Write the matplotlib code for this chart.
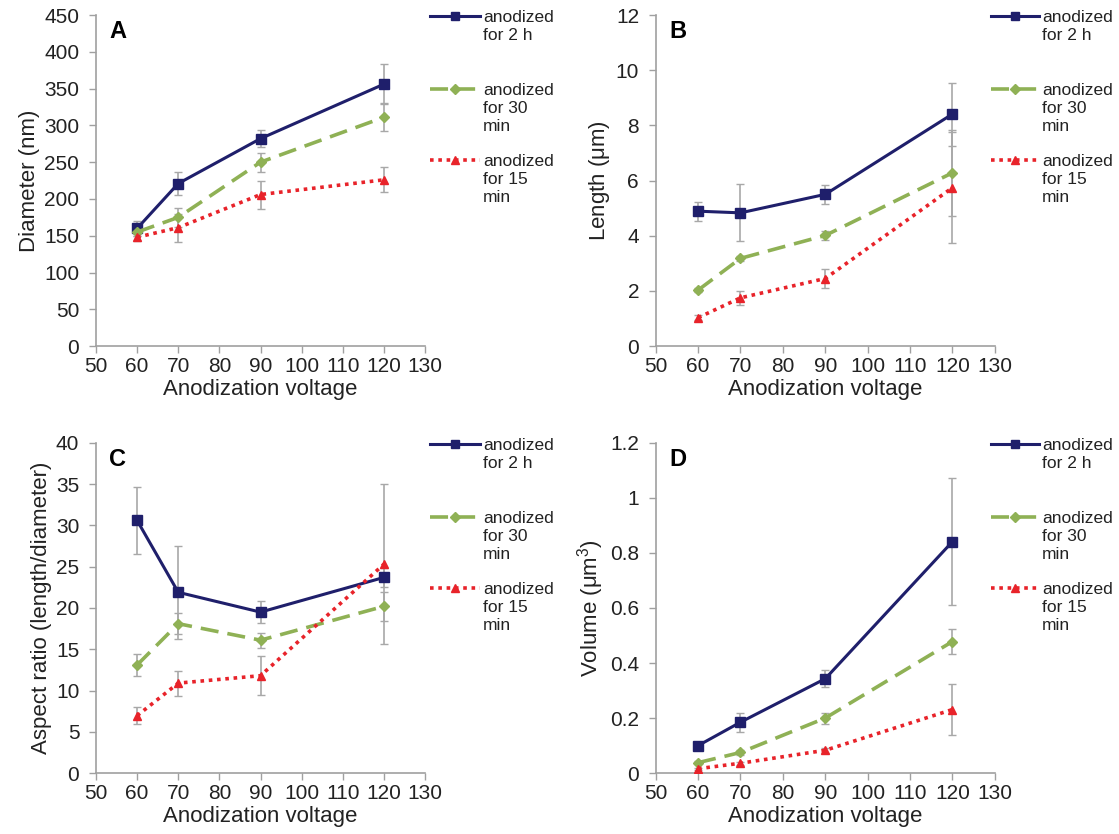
import numpy as np
import matplotlib
matplotlib.use('Agg')
from matplotlib import pyplot as plt
from matplotlib.transforms import blended_transform_factory

plt.rcParams['font.family'] = ['Liberation Sans', 'DejaVu Sans']

voltage = [60, 70, 90, 120]

# Diameter (nm)
dia_2h = [160, 221, 282, 356]
dia_2h_err = [10, 15, 12, 27]
dia_30 = [155, 175, 250, 311]
dia_30_err = [5, 13, 13, 19]
dia_15 = [148, 161, 206, 226]
dia_15_err = [5, 19, 19, 17]

# Length (um)
len_2h = [4.89, 4.83, 5.5, 8.41]
len_2h_err = [0.35, 1.03, 0.35, 1.14]
len_30 = [2.03, 3.18, 4.01, 6.28]
len_30_err = [0.08, 0.1, 0.15, 1.55]
len_15 = [1.03, 1.75, 2.45, 5.74]
len_15_err = [0.08, 0.25, 0.33, 2.02]

# Aspect ratio
ar_2h = [30.6, 21.9, 19.5, 23.7]
ar_2h_err = [4.1, 5.6, 1.35, 1.2]
ar_30 = [13.1, 18.1, 16.1, 20.2]
ar_30_err = [1.35, 1.3, 0.9, 1.75]
ar_15 = [6.96, 10.9, 11.8, 25.3]
ar_15_err = [1.0, 1.5, 2.35, 9.7]

# Volume (um^3)
vol_2h = [0.10, 0.185, 0.343, 0.841]
vol_2h_err = [0.008, 0.035, 0.03, 0.23]
vol_30 = [0.038, 0.075, 0.20, 0.478]
vol_30_err = [0.005, 0.008, 0.02, 0.046]
vol_15 = [0.016, 0.036, 0.083, 0.231]
vol_15_err = [0.004, 0.006, 0.01, 0.092]

labels = ['anodized\nfor 2 h', 'anodized\nfor 30\nmin', 'anodized\nfor 15\nmin']
navy = '#1f1f6b'
green = '#8fb155'
red = '#e8232a'
errc = '#a8a8a8'
spinec = '#a0a0a0'
textc = '#222222'

panels = [
    ('A', 'Diameter (nm)', (dia_2h, dia_2h_err), (dia_30, dia_30_err), (dia_15, dia_15_err), 450, 50),
    ('B', 'Length ($\\mathregular{\\mu}$m)', (len_2h, len_2h_err), (len_30, len_30_err), (len_15, len_15_err), 12, 2),
    ('C', 'Aspect ratio (length/diameter)', (ar_2h, ar_2h_err), (ar_30, ar_30_err), (ar_15, ar_15_err), 40, 5),
    ('D', 'Volume ($\\mathregular{\\mu m^3}$)', (vol_2h, vol_2h_err), (vol_30, vol_30_err), (vol_15, vol_15_err), 1.2, 0.2),
]

positions = [
    [0.0858, 0.585, 0.294, 0.397],
    [0.586, 0.585, 0.303, 0.397],
    [0.0858, 0.073, 0.294, 0.396],
    [0.586, 0.073, 0.303, 0.396],
]
# legend column (figure fraction): handle start, handle end, text start
leg_x = [
    (430 / 1119, 480 / 1119, 483 / 1119),
    (991 / 1119, 1039 / 1119, 1042 / 1119),
    (430 / 1119, 480 / 1119, 483 / 1119),
    (991 / 1119, 1039 / 1119, 1042 / 1119),
]
leg_y = [0.997, 0.777, 0.562]

fig = plt.figure(figsize=(11.19, 8.34), dpi=100)

styles = [
    dict(color=navy, ls='-', lw=2.2, marker='s', ms=7),
    dict(color=green, ls=(0, (5, 2.5)), lw=2.6, marker='D', ms=5),
    dict(color=red, ls=(0, (1, 1.3)), lw=2.6, marker='^', ms=6),
]
leg_ms = [6, 5, 6]


def fmt_tick(v):
    if abs(v - round(v)) < 1e-9:
        return '%d' % round(v)
    return ('%.1f' % v)


for (letter, ylab, s1, s2, s3, ymax, ystep), pos, lx in zip(panels, positions, leg_x):
    ax = fig.add_axes(pos)
    for (vals, errs), st in zip([s1, s2, s3], styles):
        ax.errorbar(voltage, vals, yerr=errs, fmt='none', ecolor=errc,
                    elinewidth=1.2, capsize=3, capthick=1.0, zorder=2)
        ax.plot(voltage, vals, zorder=3, **st)
    ax.set_xlim(50, 130)
    ax.set_ylim(0, ymax)
    ax.set_xticks(np.arange(50, 131, 10))
    yt = np.arange(0, ymax + ystep / 2, ystep)
    ax.set_yticks(yt)
    ax.set_yticklabels([fmt_tick(v) for v in yt])
    for side in ['top', 'right']:
        ax.spines[side].set_visible(False)
    for side in ['left', 'bottom']:
        ax.spines[side].set_color(spinec)
        ax.spines[side].set_linewidth(1.2)
    ax.tick_params(axis='both', colors=spinec, labelcolor=textc,
                   labelsize=15, length=5, width=1.0)
    ax.tick_params(axis='x', pad=3)
    ax.tick_params(axis='y', pad=7)
    ax.set_xlabel('Anodization voltage', fontsize=16, color=textc, labelpad=2)
    ax.set_ylabel(ylab, fontsize=16, color=textc, labelpad=3)
    ax.text(0.04, 0.985, letter, transform=ax.transAxes, fontsize=17,
            fontweight='bold', va='top', ha='left')

    # legend drawn beside the axes, one entry every ~72 px
    tr = blended_transform_factory(fig.transFigure, ax.transAxes)
    for st, lab, y, ms in zip(styles, labels, leg_y, leg_ms):
        ax.plot([lx[0], lx[1]], [y, y], transform=tr, clip_on=False,
                color=st['color'], ls=st['ls'], lw=st['lw'])
        ax.plot([(lx[0] + lx[1]) / 2], [y], transform=tr, clip_on=False,
                color=st['color'], marker=st['marker'], ms=ms, ls='none')
        ax.annotate(lab, xy=(lx[2], y), xycoords=tr, xytext=(0, 4),
                    textcoords='offset points', annotation_clip=False,
                    fontsize=12.5, color=textc, va='top', ha='left',
                    linespacing=1.25)

fig.savefig('out.png', dpi=100)
